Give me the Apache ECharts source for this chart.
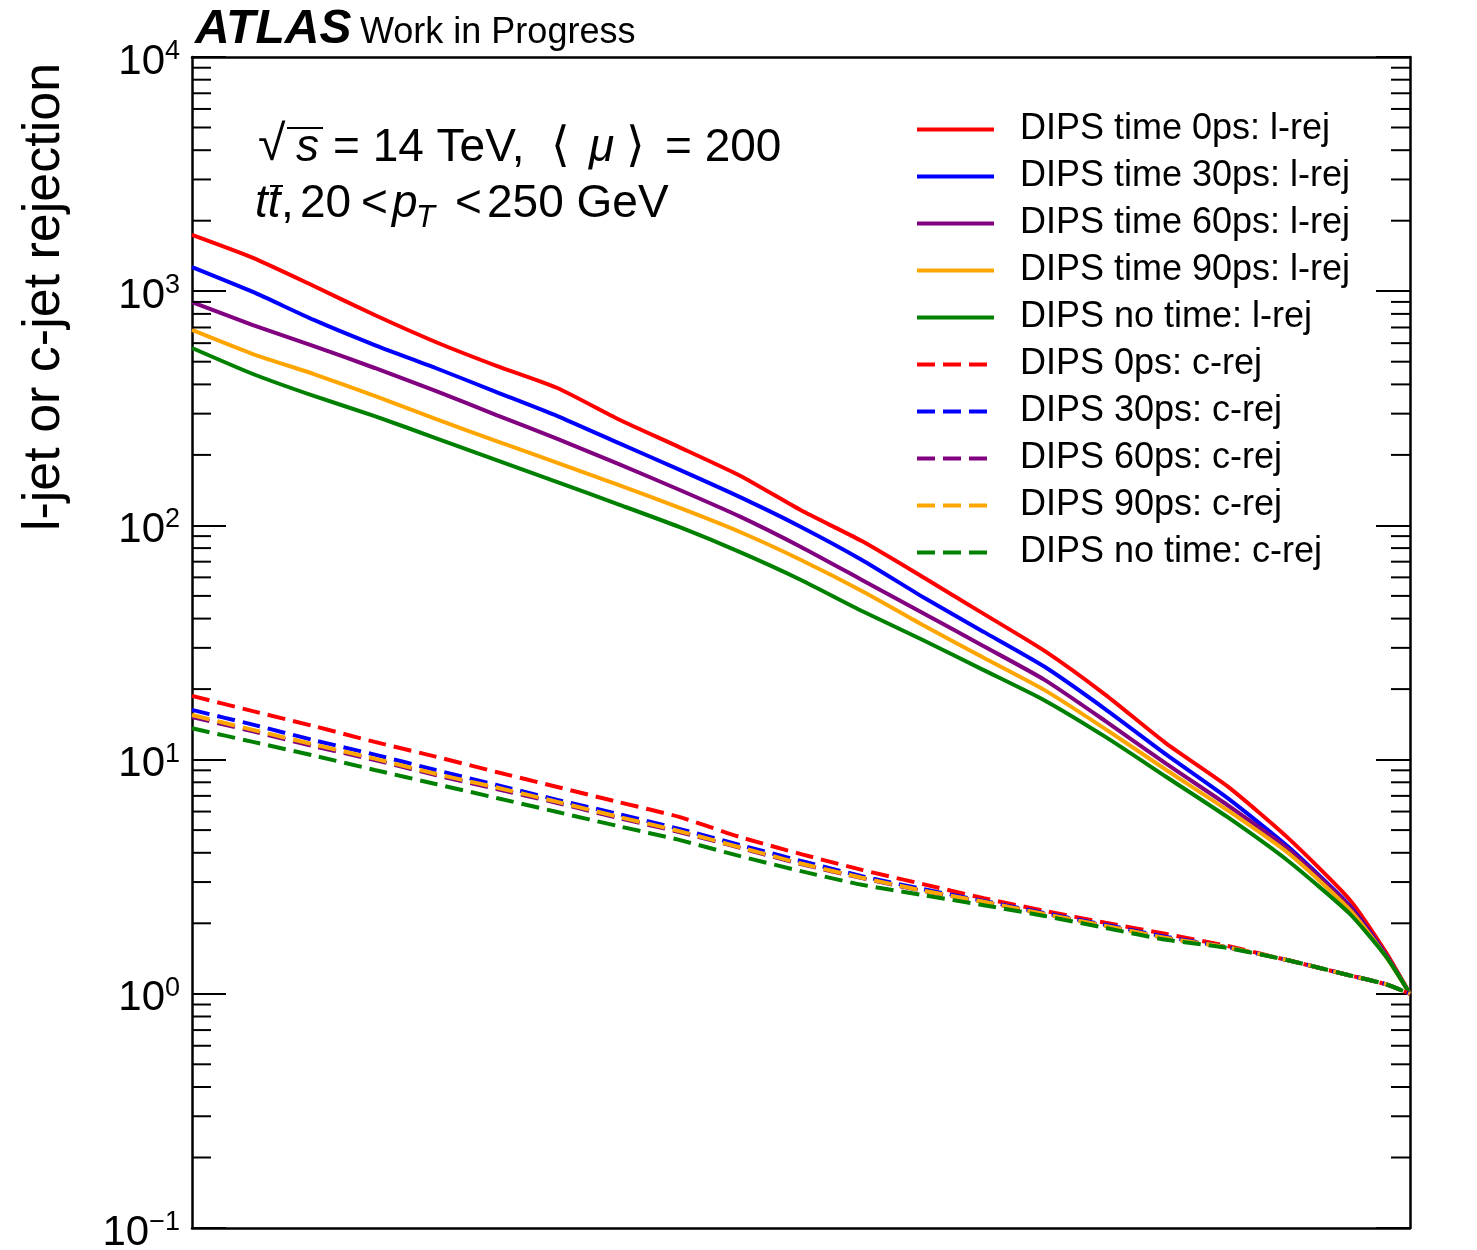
<!DOCTYPE html>
<html>
<head>
<meta charset="utf-8">
<script src="https://cdn.jsdelivr.net/npm/echarts@6/dist/echarts.min.js"></script>
<style>
  html, body { margin: 0; padding: 0; background: #fff; }
  #chart { width: 1477px; height: 1250px; }
</style>
</head>
<body>
<div id="chart"></div>
<script>
(function () {
  var myChart = echarts.init(document.getElementById("chart"));

  // b-jet efficiency points (x axis, labels hidden in the reference)
  const effX = [0.5, 0.525, 0.55, 0.575, 0.6, 0.625, 0.65, 0.675, 0.7, 0.725, 0.75,
    0.775, 0.8, 0.825, 0.85, 0.875, 0.9, 0.925, 0.95, 0.975, 0.99, 1.0];

  // light-jet rejection
  const lRej0 = [1738, 1387, 1052, 791, 607, 480, 386, 284, 216, 163, 116, 85.7, 60.2, 41.9, 29.1, 18.9, 11.7, 7.7, 4.62, 2.54, 1.51, 1];
  const lRej30 = [1268, 993, 754, 589, 470, 371, 293, 225, 173, 132, 98.5, 71.2, 49.5, 35.1, 24.9, 16.4, 10.5, 6.86, 4.24, 2.39, 1.47, 1];
  const lRej60 = [899, 717, 583, 470, 375, 296, 234, 183, 142, 109, 80.9, 58.5, 42.3, 30.5, 21.9, 14.6, 9.58, 6.4, 4.15, 2.37, 1.46, 1];
  const lRej90 = [683, 539, 443, 357, 285, 229, 185, 149, 119, 93.7, 71.2, 52.5, 37.6, 27.2, 19.8, 13.5, 9.03, 6.09, 3.99, 2.3, 1.45, 1];
  const lRejNo = [572, 443, 357, 293, 236, 190, 153, 123, 98.5, 76.9, 58.5, 43.1, 32.4, 24.1, 17.9, 12.5, 8.43, 5.69, 3.69, 2.21, 1.45, 1];

  // c-jet rejection
  const cRej0 = [18.7, 16.1, 13.9, 11.9, 10.3, 8.85, 7.64, 6.59, 5.69, 4.67, 3.95, 3.38, 2.94, 2.56, 2.26, 2.01, 1.8, 1.6, 1.39, 1.2, 1.1, 1];
  const cRej30 = [16.3, 14.1, 12.1, 10.5, 9.03, 7.79, 6.73, 5.86, 5.06, 4.32, 3.69, 3.18, 2.8, 2.49, 2.21, 1.97, 1.75, 1.58, 1.39, 1.2, 1.1, 1];
  const cRej60 = [15.2, 13.2, 11.4, 9.96, 8.59, 7.49, 6.53, 5.63, 4.91, 4.2, 3.58, 3.12, 2.75, 2.47, 2.19, 1.95, 1.73, 1.58, 1.39, 1.2, 1.1, 1];
  const cRej90 = [15.5, 13.4, 11.6, 10.1, 8.7, 7.6, 6.6, 5.7, 4.95, 4.22, 3.6, 3.13, 2.76, 2.47, 2.19, 1.95, 1.73, 1.58, 1.39, 1.2, 1.1, 1];
  const cRejNo = [13.6, 11.9, 10.4, 9.03, 7.87, 6.86, 5.97, 5.2, 4.54, 3.87, 3.34, 2.92, 2.64, 2.39, 2.15, 1.91, 1.7, 1.57, 1.39, 1.2, 1.1, 1];

  const seriesNames = [
    "DIPS time 0ps: l-rej",
    "DIPS time 30ps: l-rej",
    "DIPS time 60ps: l-rej",
    "DIPS time 90ps: l-rej",
    "DIPS no time: l-rej",
    "DIPS 0ps: c-rej",
    "DIPS 30ps: c-rej",
    "DIPS 60ps: c-rej",
    "DIPS 90ps: c-rej",
    "DIPS no time: c-rej",
  ];
  const seriesValues = [lRej0, lRej30, lRej60, lRej90, lRejNo, cRej0, cRej30, cRej60, cRej90, cRejNo];
  const colorList = ["#ff0000", "#0000ff", "#800080", "#ffa500", "#008000"];

  const yMin = 0.1;
  const yMax = 10000;
  // minor log ticks 2..9 x each decade
  const minorTicks = [];
  for (let d = 0.1; d < yMax; d *= 10) {
    for (let m = 2; m <= 9; m++) minorTicks.push(+(m * d).toPrecision(3));
  }

  const font = '"Liberation Sans", Arial, "DejaVu Sans", sans-serif';

  const series = seriesNames.map(function (name, i) {
    const color = colorList[i % 5];
    const dashed = i >= 5;
    return {
      name: name,
      type: "line",
      symbol: "none",
      smooth: 0.2,
      lineStyle: { color: color, width: 4, type: dashed ? [18, 8] : "solid" },
      itemStyle: { color: color },
      data: effX.map(function (x, k) { return [x, seriesValues[i][k]]; }),
    };
  });

  // minor ticks on left and right frame
  series.push({
    type: "custom",
    name: "minorTicks",
    silent: true,
    clip: false,
    z: 5,
    renderItem: function (params, api) {
      const l = api.coord([effX[0], api.value(1)]);
      const r = api.coord([effX[effX.length - 1], api.value(1)]);
      return {
        type: "group",
        children: [
          { type: "line", shape: { x1: l[0], y1: l[1], x2: l[0] + 19, y2: l[1] }, style: { stroke: "#000", lineWidth: 2 } },
          { type: "line", shape: { x1: r[0] - 19, y1: r[1], x2: r[0], y2: r[1] }, style: { stroke: "#000", lineWidth: 2 } },
        ],
      };
    },
    data: minorTicks.map(function (v) { return [effX[0], v]; }),
  });

  function txt(x, y, text, size, extra) {
    return {
      type: "text",
      x: x,
      y: y,
      silent: true,
      style: Object.assign({
        text: text,
        fontSize: size,
        fontFamily: font,
        fill: "#000",
        align: "left",
        verticalAlign: "middle",
      }, extra || {}),
    };
  }

  const option = {
    backgroundColor: "#ffffff",
    animation: false,
    grid: { left: 192, right: 67, top: 57, bottom: 22, outerBoundsMode: "none" },
    legend: {
      show: true,
      orient: "vertical",
      left: 915,
      top: 106,
      padding: 0,
      itemGap: 0,
      itemWidth: 77,
      itemHeight: 14,
      data: seriesNames,
      itemStyle: { opacity: 0 },
      lineStyle: { width: 4 },
      textStyle: {
        fontSize: 36,
        fontFamily: font,
        color: "#000",
        lineHeight: 47,
        padding: [0, 0, 0, 21],
      },
    },
    xAxis: [
      {
        type: "value",
        min: 0.5,
        max: 1.0,
        position: "bottom",
        axisLine: { show: true, lineStyle: { color: "#000", width: 2.5 } },
        axisTick: { show: false },
        axisLabel: { show: false },
        splitLine: { show: false },
      },
      {
        type: "value",
        min: 0.5,
        max: 1.0,
        position: "top",
        axisLine: { show: true, lineStyle: { color: "#000", width: 2.5 } },
        axisTick: { show: false },
        axisLabel: { show: false },
        splitLine: { show: false },
      },
    ],
    yAxis: [
      {
        type: "log",
        logBase: 10,
        min: yMin,
        max: yMax,
        position: "left",
        axisLine: { show: true, lineStyle: { color: "#000", width: 2.5 } },
        axisTick: { show: true, inside: true, length: 34, lineStyle: { color: "#000", width: 2 } },
        splitLine: { show: false },
        axisLabel: {
          show: true,
          margin: 12,
          padding: [10, 0, 0, 0],
          formatter: function (v) {
            const e = Math.round(Math.log10(v));
            return "{b|10}{s|" + (e < 0 ? "\u2212" + -e : e) + "}";
          },
          rich: {
            b: { fontSize: 42, fontFamily: font, color: "#000", lineHeight: 48 },
            s: { fontSize: 27, fontFamily: font, color: "#000", lineHeight: 27, verticalAlign: "top" },
          },
        },
      },
      {
        type: "log",
        logBase: 10,
        min: yMin,
        max: yMax,
        position: "right",
        axisLine: { show: true, lineStyle: { color: "#000", width: 2.5 } },
        axisTick: { show: true, inside: true, length: 34, lineStyle: { color: "#000", width: 2 } },
        splitLine: { show: false },
        axisLabel: { show: false },
      },
    ],
    graphic: [
      txt(195, 30, "ATLAS", 48, { fontStyle: "italic", fontWeight: "bold" }),
      txt(360, 33, "Work in Progress", 36),
      {
        type: "text",
        x: 45,
        y: 297,
        rotation: Math.PI / 2,
        silent: true,
        style: {
          text: "l-jet or c-jet rejection",
          fontSize: 52,
          fontFamily: font,
          fill: "#000",
          align: "center",
          verticalAlign: "middle",
        },
      },
      // sqrt(s) = 14 TeV, <mu> = 200
      txt(258, 146, "\u221A", 50),
      { type: "line", silent: true, shape: { x1: 287, y1: 128, x2: 323, y2: 128 }, style: { stroke: "#000", lineWidth: 2 } },
      txt(296, 148, "s", 46, { fontStyle: "italic" }),
      txt(333, 148, "= 14 TeV,", 46),
      txt(551, 148, "\u27E8", 48),
      txt(589, 148, "\u03BC", 46, { fontStyle: "italic" }),
      txt(626, 148, "\u27E9", 48),
      txt(665, 148, "= 200", 46),
      // ttbar, 20 < pT < 250 GeV
      txt(255, 204, "tt", 46, { fontStyle: "italic" }),
      { type: "line", silent: true, shape: { x1: 270, y1: 186, x2: 283, y2: 186 }, style: { stroke: "#000", lineWidth: 2 } },
      txt(281, 204, ",", 46),
      txt(300, 204, "20", 46),
      txt(361, 204, "<", 46),
      txt(392, 204, "p", 46, { fontStyle: "italic" }),
      txt(416, 218, "T", 31, { fontStyle: "italic" }),
      txt(455, 204, "<", 46),
      txt(487, 204, "250 GeV", 46),
    ],
    series: series,
  };

  myChart.setOption(option, true);

  window.onresize = function () {
    myChart.resize();
  };
})();
</script>
</body>
</html>
